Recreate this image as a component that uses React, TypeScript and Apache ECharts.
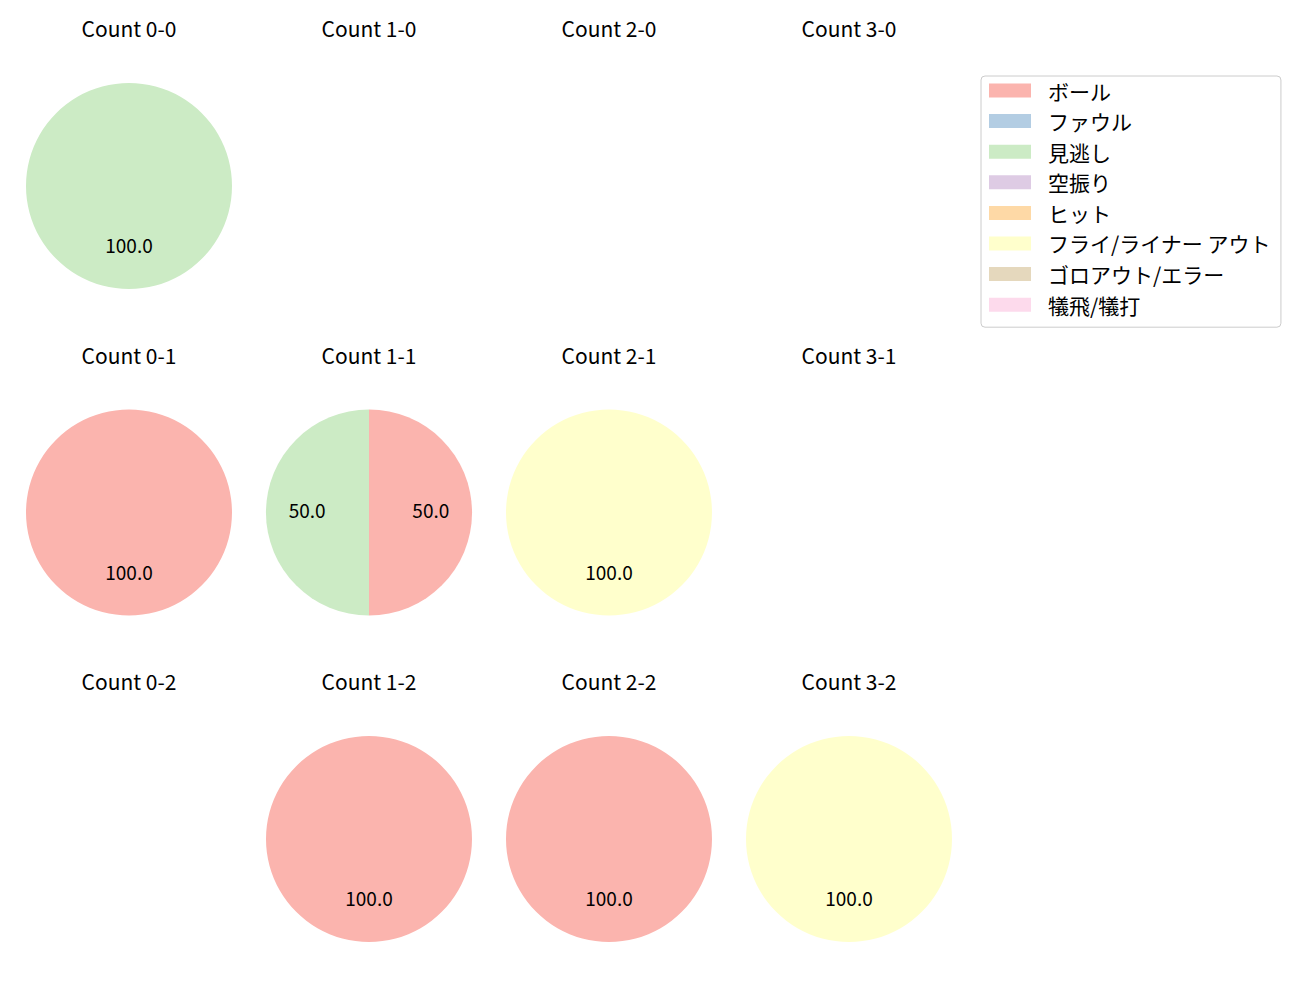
import React, { useEffect, useRef } from "react";
import * as echarts from "echarts";

const categories = ["ボール", "ファウル", "見逃し", "空振り", "ヒット", "フライ/ライナー アウト", "ゴロアウト/エラー", "犠飛/犠打"];
const colors = ["#fbb4ae", "#b3cde3", "#ccebc5", "#decbe4", "#fed9a6", "#ffffcc", "#e5d8bd", "#fddaec"];

const countTitles = [
  ["Count 0-0", "Count 1-0", "Count 2-0", "Count 3-0"],
  ["Count 0-1", "Count 1-1", "Count 2-1", "Count 3-1"],
  ["Count 0-2", "Count 1-2", "Count 2-2", "Count 3-2"],
];

// counts per category (order as categories) for each count situation
const count00 = [0, 0, 1, 0, 0, 0, 0, 0];
const count10 = [0, 0, 0, 0, 0, 0, 0, 0];
const count20 = [0, 0, 0, 0, 0, 0, 0, 0];
const count30 = [0, 0, 0, 0, 0, 0, 0, 0];
const count01 = [1, 0, 0, 0, 0, 0, 0, 0];
const count11 = [1, 0, 1, 0, 0, 0, 0, 0];
const count21 = [0, 0, 0, 0, 0, 1, 0, 0];
const count31 = [0, 0, 0, 0, 0, 0, 0, 0];
const count02 = [0, 0, 0, 0, 0, 0, 0, 0];
const count12 = [1, 0, 0, 0, 0, 0, 0, 0];
const count22 = [1, 0, 0, 0, 0, 0, 0, 0];
const count32 = [0, 0, 0, 0, 0, 1, 0, 0];

const grid = [
  [count00, count10, count20, count30],
  [count01, count11, count21, count31],
  [count02, count12, count22, count32],
];

const FONT = "'Noto Sans CJK JP', 'Noto Sans', sans-serif";
const TITLE_FS = 21;
const LABEL_FS = 19;
const LEGEND_FS = 21;

export default function App() {
  const ref = useRef<HTMLDivElement>(null);
  useEffect(() => {
    if (!ref.current) return;
    const chart = echarts.init(ref.current, undefined, { renderer: "svg" });
    const colX = [129, 369, 609, 849];
    const rowY = [186, 512.5, 839];
    const titleY = [29, 356, 682];
    const R = 103;
    const titles: any[] = [];
    const series: any[] = [];
    for (let r = 0; r < 3; r++) {
      for (let c = 0; c < 4; c++) {
        titles.push({
          text: countTitles[r][c],
          left: colX[c],
          top: titleY[r] - 12,
          padding: 0,
          textAlign: "center",
          textStyle: { fontFamily: FONT, fontSize: TITLE_FS, fontWeight: "normal", color: "#000" },
        });
        const vals = grid[r][c];
        const total = vals.reduce((a, b) => a + b, 0);
        if (total === 0) continue;
        const data = categories.map((name, i) => ({
          name,
          value: vals[i],
          itemStyle: { color: colors[i] },
        }));
        series.push({
          type: "pie",
          center: [colX[c], rowY[r]],
          radius: [0, R],
          startAngle: 90,
          clockwise: true,
          animation: false,
          silent: true,
          label: { show: false },
          labelLine: { show: false },
          itemStyle: { borderWidth: 0 },
          emphasis: { disabled: true },
          data,
        });
        // transparent ring used only to place the percentage labels
        series.push({
          type: "pie",
          center: [colX[c], rowY[r] - 3],
          radius: [R * 0.142, R],
          startAngle: 90,
          clockwise: true,
          animation: false,
          silent: true,
          legendHoverLink: false,
          itemStyle: { color: "rgba(0,0,0,0)", borderWidth: 0 },
          emphasis: { disabled: true },
          labelLine: { show: false },
          label: {
            show: true,
            position: "inside",
            fontFamily: FONT,
            fontSize: LABEL_FS,
            color: "#000",
            formatter: (p: any) => (p.value > 0 ? ((p.value / total) * 100).toFixed(1) : ""),
          },
          data: categories.map((name, i) => ({ name, value: vals[i] })),
        });
      }
    }
    chart.setOption({
      animation: false,
      backgroundColor: "#fff",
      title: titles,
      legend: {
        orient: "vertical",
        left: 981,
        top: 76,
        padding: [4, 10, 12, 8],
        itemWidth: 42,
        itemHeight: 14,
        itemGap: 9.6,
        borderColor: "#cccccc",
        borderWidth: 1,
        borderRadius: 4,
        icon: "rect",
        data: categories.map((name, i) => ({ name, itemStyle: { color: colors[i] } })),
        textStyle: { fontFamily: FONT, fontSize: LEGEND_FS, color: "#000", padding: [0, 0, 0, 12], lineHeight: 20 },
        selectedMode: false,
      },
      series,
    });
    return () => chart.dispose();
  }, []);
  return <div ref={ref} style={{ width: 1300, height: 1000, margin: -8 }} />;
}
